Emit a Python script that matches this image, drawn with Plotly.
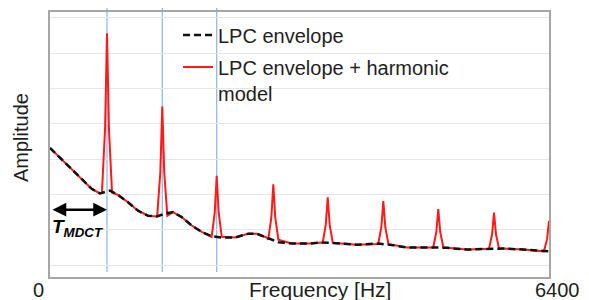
import plotly.graph_objects as go

# ---------------- data ----------------
env_freq = [0, 150, 278, 407, 535, 641, 727, 770, 872, 1000, 1129, 1257, 1369, 1497,
            1578, 1689, 1817, 1946, 2074, 2202, 2373, 2543, 2651, 2780, 2928, 3100,
            3335, 3485, 3613, 3934, 4211, 4339, 4575, 4916, 5088, 5344, 5643, 5814,
            6071, 6327, 6400]
env_amp = [3.32, 3.00, 2.72, 2.44, 2.16, 2.03, 2.09, 2.11, 1.99, 1.78, 1.54, 1.40, 1.38, 1.47,
           1.50, 1.36, 1.12, 0.94, 0.82, 0.78, 0.78, 0.89, 0.89, 0.78, 0.65, 0.61,
           0.61, 0.64, 0.63, 0.58, 0.61, 0.58, 0.50, 0.50, 0.49, 0.44, 0.45, 0.47,
           0.44, 0.40, 0.39]

peak_freq = [731, 1440, 2138, 2864, 3562, 4275, 4980, 5695, 6400]
peak_top = [6.57, 4.49, 2.53, 2.29, 1.92, 1.81, 1.59, 1.49, 1.25]
peak_base = [2.05, 1.40, 0.80, 0.72, 0.63, 0.60, 0.50, 0.46, 0.39]
peak_offsets = [-65, -25, 0, 25, 65]        # Hz from harmonic centre
peak_profile = [0.0, 0.4, 1.0, 0.4, 0.0]     # fraction of height above envelope

harmonic_lines = [731, 1440, 2138]
x_range = [0, 6400]
x_labels = ["0", "6400"]

# ---------------- build harmonic model curve ----------------
pts = [(f, a) for f, a in zip(env_freq, env_amp)
       if all(abs(f - p) > 65 for p in peak_freq)]
for p, top, base in zip(peak_freq, peak_top, peak_base):
    for off, frac in zip(peak_offsets, peak_profile):
        f = p + off
        if 0 <= f <= 6400:
            pts.append((f, base + frac * (top - base)))
pts.sort()
model_freq = [p[0] for p in pts]
model_amp = [p[1] for p in pts]

FONT = "Liberation Sans, Arial, sans-serif"
TXT = "#1e1e1e"

fig = go.Figure()
fig.add_trace(go.Scatter(
    x=model_freq, y=model_amp, mode="lines",
    name="LPC envelope + harmonic<br>model",
    line=dict(color="#ff1a1a", width=2),
    legendrank=2, legendgroup="b"))
fig.add_trace(go.Scatter(
    x=env_freq, y=env_amp, mode="lines", name="LPC envelope",
    line=dict(color="#111111", width=2.5, dash="7px,4px"),
    legendrank=1, legendgroup="a"))

shapes = []
for f in harmonic_lines:
    shapes.append(dict(type="line", xref="x", yref="paper", x0=f, x1=f,
                       y0=0.019, y1=1.04, layer="below",
                       line=dict(color="#8db3e2", width=1.2)))

annotations = [
    dict(x=731, y=1.57, ax=13, ay=1.57, xref="x", yref="y", axref="x", ayref="y",
         text="", showarrow=True, arrowside="end+start", arrowhead=2,
         arrowsize=1.1, arrowwidth=2.5, arrowcolor="#000000",
         standoff=0, startstandoff=0),
    dict(x=0, y=1.06, xref="x", yref="y", xanchor="left", yanchor="middle",
         text="<b><i>T</i></b><b><i><sub>MDCT</sub></i></b>", showarrow=False,
         font=dict(family=FONT, size=19, color="#000000")),
    dict(x=(38 - 50) / 499, y=(277 - 290) / 267, xref="paper", yref="paper",
         text=x_labels[0], showarrow=False, xanchor="center", yanchor="middle",
         font=dict(family=FONT, size=20, color=TXT)),
    dict(x=(557 - 50) / 499, y=(277 - 290) / 267, xref="paper", yref="paper",
         text=x_labels[1], showarrow=False, xanchor="center", yanchor="middle",
         font=dict(family=FONT, size=20, color=TXT)),
    dict(x=(320 - 50) / 499, y=(277 - 290) / 267, xref="paper", yref="paper",
         text="Frequency [Hz]", showarrow=False, xanchor="center", yanchor="middle",
         font=dict(family=FONT, size=21, color=TXT)),
    dict(x=(21 - 50) / 499, y=(277 - 137) / 267, xref="paper", yref="paper",
         text="Amplitude", showarrow=False, xanchor="center", yanchor="middle",
         textangle=-90, font=dict(family=FONT, size=20, color=TXT)),
]

# the page body adds an 8px offset, so the figure is 8px smaller on each axis
fig.update_layout(
    width=581, height=292,
    margin=dict(l=42, r=40, t=2, b=23),
    paper_bgcolor="white", plot_bgcolor="rgba(0,0,0,0)",
    showlegend=True,
    legend=dict(x=0.2565, y=0.987, xanchor="left", yanchor="top",
                bgcolor="rgba(0,0,0,0)", valign="top", tracegroupgap=3,
                font=dict(family=FONT, size=20, color=TXT)),
    shapes=shapes, annotations=annotations,
)
fig.update_xaxes(range=x_range, showgrid=False, showticklabels=False, ticks="",
                 zeroline=False, showline=True, mirror=True,
                 linecolor="#a6a6a6", linewidth=1.5)
fig.update_yaxes(range=[-0.337, 7.169], tickvals=list(range(0, 8)),
                 showticklabels=False, ticks="", showgrid=True,
                 gridcolor="#e6e6e6", gridwidth=1, zeroline=False,
                 showline=True, mirror=True, linecolor="#a6a6a6", linewidth=1.5)

fig.write_html("out.html")
